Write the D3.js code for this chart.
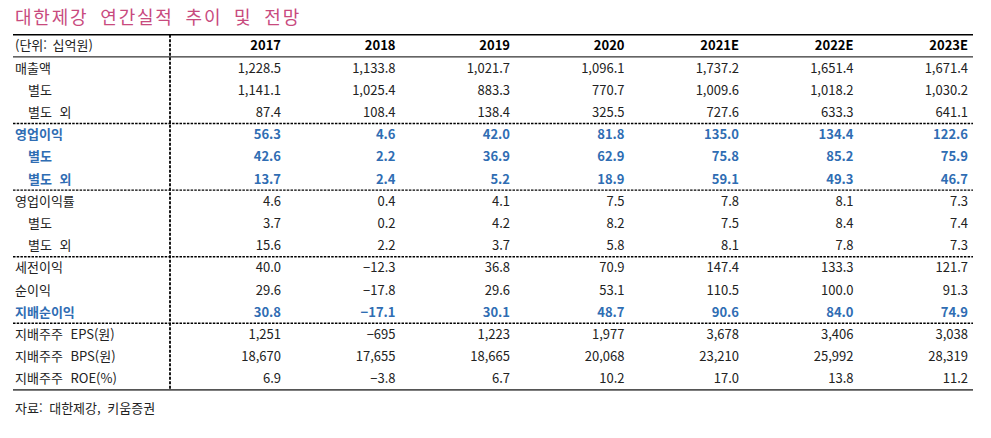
<!DOCTYPE html>
<html lang="ko">
<head>
<meta charset="utf-8">
<script src="https://d3js.org/d3.v7.min.js"></script>
<style>
  body { margin: 0; background: #fff; }
  text { font-family: "Noto Sans CJK KR", "Noto Sans", sans-serif; }
</style>
<title>대한제강 연간실적 추이 및 전망</title>
</head>
<body>
<div id="table"></div>
<script>
// data
var years = ["2017", "2018", "2019", "2020", "2021E", "2022E", "2023E"];
var sales      = [1228.5, 1133.8, 1021.7, 1096.1, 1737.2, 1651.4, 1671.4];
var salesSep   = [1141.1, 1025.4, 883.3, 770.7, 1009.6, 1018.2, 1030.2];
var salesOth   = [87.4, 108.4, 138.4, 325.5, 727.6, 633.3, 641.1];
var op         = [56.3, 4.6, 42.0, 81.8, 135.0, 134.4, 122.6];
var opSep      = [42.6, 2.2, 36.9, 62.9, 75.8, 85.2, 75.9];
var opOth      = [13.7, 2.4, 5.2, 18.9, 59.1, 49.3, 46.7];
var opm        = [4.6, 0.4, 4.1, 7.5, 7.8, 8.1, 7.3];
var opmSep     = [3.7, 0.2, 4.2, 8.2, 7.5, 8.4, 7.4];
var opmOth     = [15.6, 2.2, 3.7, 5.8, 8.1, 7.8, 7.3];
var pretax     = [40.0, -12.3, 36.8, 70.9, 147.4, 133.3, 121.7];
var netInc     = [29.6, -17.8, 29.6, 53.1, 110.5, 100.0, 91.3];
var ctrlNet    = [30.8, -17.1, 30.1, 48.7, 90.6, 84.0, 74.9];
var eps        = [1251, -695, 1223, 1977, 3678, 3406, 3038];
var bps        = [18670, 17655, 18665, 20068, 23210, 25992, 28319];
var roe        = [6.9, -3.8, 6.7, 10.2, 17.0, 13.8, 11.2];

var rowLabels = ["매출액", "별도", "별도 외", "영업이익", "별도", "별도 외",
  "영업이익률", "별도", "별도 외", "세전이익", "순이익", "지배순이익",
  "지배주주 EPS(원)", "지배주주 BPS(원)", "지배주주 ROE(%)"];
var rowValues = [sales, salesSep, salesOth, op, opSep, opOth, opm, opmSep, opmOth,
  pretax, netInc, ctrlNet, eps, bps, roe];
var indented = [1, 2, 4, 5, 7, 8];
var highlighted = [3, 4, 5, 11];
var groupEnds = [2, 5, 8, 11];

var width = 991, height = 438;
var left = 13, right = 973, divider = 170;
var blue = "#2f6db3", ink = "#222";

var f1 = d3.format(",.1f"), f0 = d3.format(",.0f");
function fmt(i, v) { return (i === 12 || i === 13) ? f0(v) : f1(v); }

var svg = d3.select("#table").append("svg")
    .attr("width", width)
    .attr("height", height);

var x = d3.scalePoint().domain(years).range([281, 968]);
var y = d3.scaleLinear().domain([0, 1]).range([68, 90.2]);

svg.append("text")
    .attr("x", 15).attr("y", 24)
    .attr("fill", "#c84a7e")
    .style("font-size", "18px")
    .style("letter-spacing", "1.8px")
    .style("word-spacing", "5px")
    .text("대한제강 연간실적 추이 및 전망");

// lines
svg.append("line")
    .attr("x1", left).attr("x2", right)
    .attr("y1", y(-1.5)).attr("y2", y(-1.5))
    .attr("stroke", "#000").attr("stroke-width", 1.6);
svg.append("line")
    .attr("x1", left).attr("x2", right)
    .attr("y1", y(-0.5)).attr("y2", y(-0.5))
    .attr("stroke", "#000").attr("stroke-width", 1);
svg.selectAll(".sep")
    .data(groupEnds)
    .enter().append("line")
    .attr("class", "sep")
    .attr("x1", left).attr("x2", right)
    .attr("y1", d => y(d + 0.5)).attr("y2", d => y(d + 0.5))
    .attr("stroke", "#000").attr("stroke-width", 1.4)
    .attr("stroke-dasharray", "2.5,1.2");
svg.append("line")
    .attr("x1", left).attr("x2", right)
    .attr("y1", y(14.5)).attr("y2", y(14.5))
    .attr("stroke", "#555").attr("stroke-width", 1.6);
svg.append("line")
    .attr("x1", divider).attr("x2", divider)
    .attr("y1", y(-1.5)).attr("y2", y(14.5))
    .attr("stroke", "#000").attr("stroke-width", 1.8)
    .attr("stroke-dasharray", "3,1.5");

// header
svg.append("text")
    .attr("x", 15).attr("y", y(-1)).attr("dy", "0.35em")
    .attr("fill", ink).style("font-size", "13px")
    .style("word-spacing", "2px")
    .text("(단위: 십억원)");
svg.selectAll(".year")
    .data(years)
    .enter().append("text")
    .attr("class", "year")
    .attr("x", d => x(d)).attr("y", y(-1)).attr("dy", "0.35em")
    .attr("text-anchor", "end")
    .attr("fill", "#000")
    .style("font-size", "13px").style("font-weight", "bold")
    .text(d => d);

// rows
var rows = svg.selectAll(".row")
    .data(rowLabels)
    .enter().append("g")
    .attr("class", "row")
    .attr("transform", (d, i) => "translate(0," + y(i) + ")")
    .attr("fill", (d, i) => highlighted.includes(i) ? blue : ink)
    .style("font-weight", (d, i) => highlighted.includes(i) ? "bold" : "normal")
    .style("font-size", "13px");

rows.append("text")
    .attr("x", (d, i) => indented.includes(i) ? 28 : 15)
    .attr("dy", "0.35em")
    .style("word-spacing", "4px")
    .text(d => d);

rows.selectAll(".val")
    .data((d, i) => rowValues[i].map(v => ({ i: i, v: v })))
    .enter().append("text")
    .attr("class", "val")
    .attr("x", (d, j) => x(years[j]))
    .attr("dy", "0.35em")
    .attr("text-anchor", "end")
    .text(d => fmt(d.i, d.v));

svg.append("text")
    .attr("x", 15).attr("y", 408).attr("dy", "0.35em")
    .attr("fill", ink).style("font-size", "13px")
    .style("word-spacing", "3px")
    .text("자료: 대한제강, 키움증권");
</script>
</body>
</html>
